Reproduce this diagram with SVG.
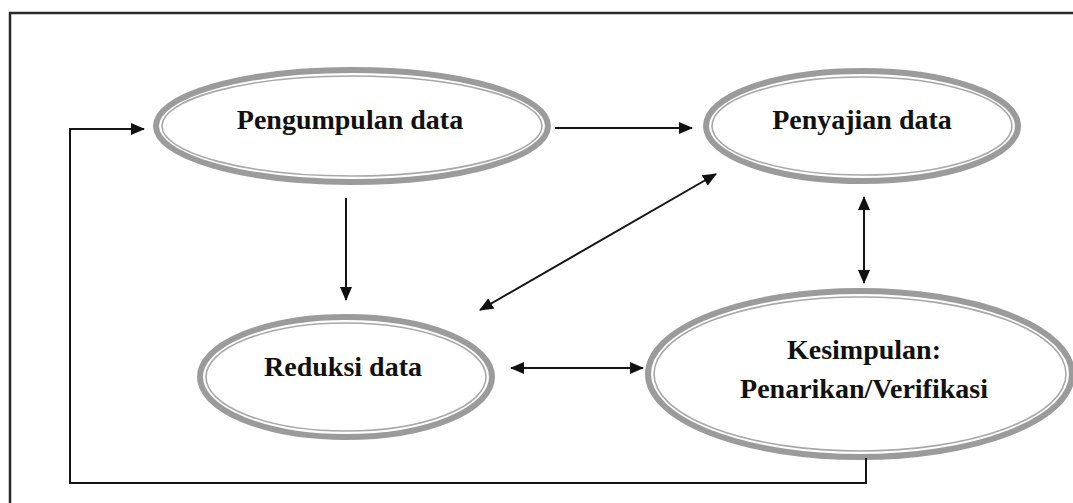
<svg xmlns="http://www.w3.org/2000/svg" width="1073" height="503" viewBox="0 0 1073 503">
<defs>
<style>
.outer{fill:#fff;stroke:#9b9b9b;stroke-width:6}
.inner{fill:none;stroke:#a8a8a8;stroke-width:1.6}
.lbl{font-family:"Liberation Serif","Times New Roman",serif;font-weight:bold;font-size:28px;fill:#111;text-anchor:middle}
.conn{fill:none;stroke:#151515;stroke-width:2}
</style>
<marker id="ah" markerUnits="userSpaceOnUse" markerWidth="14" markerHeight="12" refX="13" refY="6" orient="auto-start-reverse">
<path d="M0,0 L14,6 L0,12 z" fill="#111"/>
</marker>
</defs>
<rect width="1073" height="503" fill="#fff"/>
<path d="M10,503 V13 H1073" fill="none" stroke="#2a2a2a" stroke-width="2.5"/>

<g id="pengumpulan">
<ellipse class="outer" cx="352" cy="126" rx="196" ry="56"/>
<ellipse class="inner" cx="352" cy="126" rx="190" ry="50"/>
<text class="lbl" x="350" y="129">Pengumpulan data</text>
</g>

<g id="penyajian">
<ellipse class="outer" cx="862" cy="126" rx="156" ry="55"/>
<ellipse class="inner" cx="862" cy="126" rx="150" ry="49"/>
<text class="lbl" x="862" y="129">Penyajian data</text>
</g>

<g id="reduksi">
<ellipse class="outer" cx="346" cy="377" rx="146" ry="60"/>
<ellipse class="inner" cx="346" cy="377" rx="140" ry="54"/>
<text class="lbl" x="343" y="376">Reduksi data</text>
</g>

<g id="kesimpulan">
<ellipse class="outer" cx="860" cy="374" rx="212" ry="83"/>
<ellipse class="inner" cx="860" cy="374" rx="206" ry="77"/>
<text class="lbl" x="864" y="359">Kesimpulan:</text>
<text class="lbl" x="864" y="398">Penarikan/Verifikasi</text>
</g>

<g id="connectors">
<line class="conn" x1="555" y1="128" x2="692" y2="128" marker-end="url(#ah)"/>
<line class="conn" x1="346" y1="198" x2="346" y2="300" marker-end="url(#ah)"/>
<line class="conn" x1="480" y1="310" x2="716" y2="174" marker-start="url(#ah)" marker-end="url(#ah)"/>
<line class="conn" x1="511" y1="368" x2="643" y2="368" marker-start="url(#ah)" marker-end="url(#ah)"/>
<line class="conn" x1="864" y1="197" x2="864" y2="283" marker-start="url(#ah)" marker-end="url(#ah)"/>
<path class="conn" d="M866,458 V483 H70 V129 H144" marker-end="url(#ah)"/>
</g>
</svg>
